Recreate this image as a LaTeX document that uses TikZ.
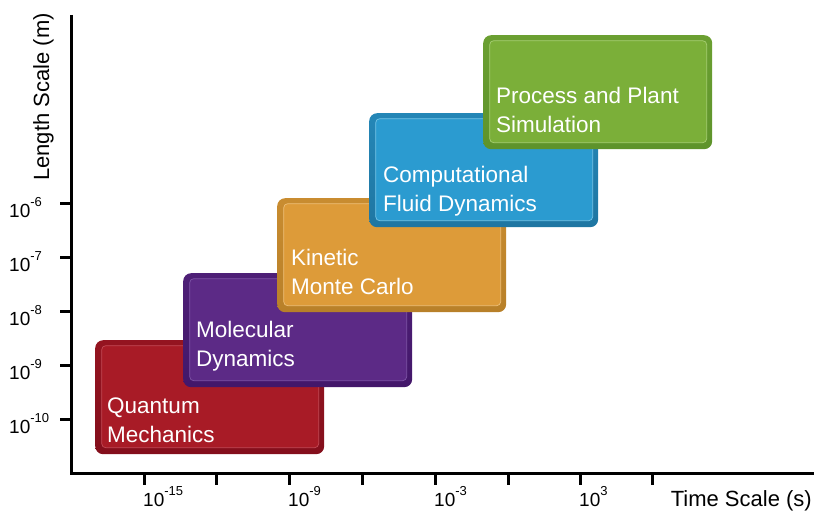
\documentclass[tikz,border=0pt]{standalone}
\usepackage{fontspec}
\setmainfont{Liberation Sans}

% box colours: face, bevel band, highlight line
\definecolor{qmface}{HTML}{A81B26}\definecolor{qmband}{HTML}{840F1C}\definecolor{qmhi}{HTML}{C24A55}
\definecolor{mdface}{HTML}{5C2A86}\definecolor{mdband}{HTML}{43176A}\definecolor{mdhi}{HTML}{7E54A6}
\definecolor{kmface}{HTML}{DD9B39}\definecolor{kmband}{HTML}{B88029}\definecolor{kmhi}{HTML}{EDBF78}
\definecolor{cfface}{HTML}{2B9BD0}\definecolor{cfband}{HTML}{1F76A2}\definecolor{cfhi}{HTML}{74C3E6}
\definecolor{ppface}{HTML}{7BAF39}\definecolor{ppband}{HTML}{5E932B}\definecolor{pphi}{HTML}{A6CE72}

\tikzset{
  band/.style={rounded corners=8pt, minimum width=229pt, minimum height=114pt,
    inner sep=0pt, anchor=north west},
  face/.style={rounded corners=4pt, minimum width=217pt, minimum height=102pt,
    inner sep=0pt, line width=0.7pt},
  boxtext/.style={text=white, font=\fontsize{22.5pt}{29pt}\selectfont,
    align=left, anchor=base west, inner sep=0pt},
  ticklabel/.style={font=\fontsize{19pt}{19pt}\selectfont, anchor=base west, inner sep=0pt},
  axistitle/.style={font=\fontsize{22pt}{22pt}\selectfont, inner sep=0pt},
  axisline/.style={line width=3pt},
  tickline/.style={line width=3pt},
}

% power of ten with a raised exponent
\newcommand\tenpow[1]{10\raisebox{11pt}{\fontsize{13pt}{13pt}\selectfont #1}}

% bevelled box: name, left, top, colour prefix
\newcommand\levelbox[4]{%
  \node[band, top color=#4band!55!#4face, bottom color=#4band] (#1) at (#2,#3) {};
  \node[face, fill=#4face, draw=#4hi] (#1face) at ([xshift=0.5pt,yshift=0.5pt]#1.center) {};
}

\begin{document}
\begin{tikzpicture}[x=1pt,y=-1pt]
  \useasboundingbox (0,0) rectangle (814,511);

  % axes
  \draw[axisline] (71,15) -- (71,473) -- (814,473);
  \foreach \yy in {203,257,311,365,419}
    \draw[tickline] (60,\yy) -- (71,\yy);
  \foreach \xx in {144,216,289,362,435,508,580,652}
    \draw[tickline] (\xx,473) -- (\xx,485);

  % axis labels
  \node[ticklabel] (ym6)  at (9,217) {\tenpow{-6}};
  \node[ticklabel] (ym7)  at (9,271) {\tenpow{-7}};
  \node[ticklabel] (ym8)  at (9,325) {\tenpow{-8}};
  \node[ticklabel] (ym9)  at (9,379) {\tenpow{-9}};
  \node[ticklabel] (ym10) at (9,433) {\tenpow{-10}};

  \node[ticklabel] (xm15) at (143,506) {\tenpow{-15}};
  \node[ticklabel] (xm9)  at (288,506) {\tenpow{-9}};
  \node[ticklabel] (xm3)  at (434,506) {\tenpow{-3}};
  \node[ticklabel] (xp3)  at (579,506) {\tenpow{3}};

  \node[axistitle, anchor=base east] (xtitle) at (812,506) {Time Scale (s)};
  \node[axistitle, anchor=base, rotate=90] (ytitle) at (49,97) {Length Scale (m)};

  % simulation levels, stacked from small to large scales
  % (text nodes are anchored on the baseline of their last line)
  \levelbox{qm}{95}{340}{qm}
  \node[boxtext] (qmtext) at (107,442) {Quantum\\Mechanics};

  \levelbox{md}{183}{273}{md}
  \node[boxtext] (mdtext) at (196,366) {Molecular\\Dynamics};

  \levelbox{km}{277}{198}{km}
  \node[boxtext] (kmtext) at (291,294) {Kinetic\\Monte Carlo};

  \levelbox{cf}{369}{113}{cf}
  \node[boxtext] (cftext) at (383,211) {Computational\\Fluid Dynamics};

  \levelbox{pp}{483}{35}{pp}
  \node[boxtext] (pptext) at (496,132) {Process and Plant\\Simulation};
\end{tikzpicture}
\end{document}
